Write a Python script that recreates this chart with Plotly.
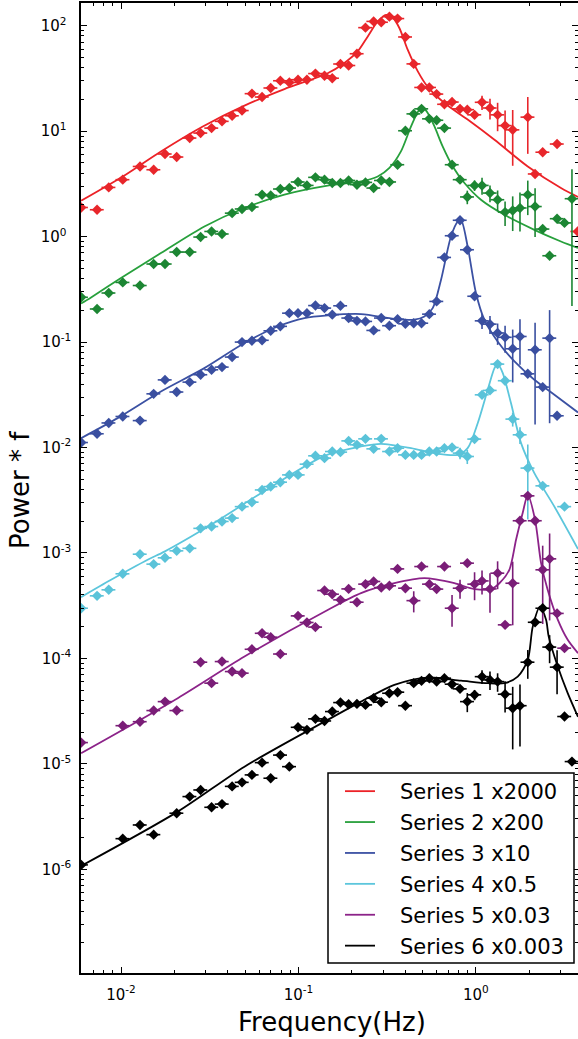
import plotly.graph_objects as go

# ---------------- data ----------------
FREQ = [0.00597, 0.00733, 0.00853, 0.01023, 0.0128, 0.01528, 0.0177, 0.0206, 0.0244, 0.0281,
        0.0324, 0.0371, 0.0423, 0.0481, 0.0547, 0.0624, 0.0698, 0.0791, 0.0889, 0.0995,
        0.1117, 0.1247, 0.1403, 0.1552, 0.1726, 0.1919, 0.2138, 0.2388, 0.2655, 0.2931,
        0.3258, 0.3622, 0.4009, 0.4467, 0.4943, 0.5470, 0.6012, 0.6653, 0.7345, 0.8147,
        0.8954, 0.9840, 1.084, 1.202, 1.327, 1.462, 1.614, 1.774, 1.963, 2.158,
        2.382, 2.606, 2.871, 3.162, 3.483, 3.750]

NAMES = ["Series 1 x2000", "Series 2 x200", "Series 3 x10",
         "Series 4 x0.5", "Series 5 x0.03", "Series 6 x0.003"]

S1_POWER = [1.89, 1.80, 2.93, 3.47, 4.63, 4.31, 6.08, 5.69, 8.61, 9.6,
            10.7, 12.4, 14.0, 15.7, 22.7, 21.1, 25.7, 30.1, 29.0, 30.8,
            30.8, 35.2, 33.6, 31.8, 43.4, 42.0, 54.3, 96, 110, 108,
            122, 117, 78.3, 43.5, 26.0, 26.0, 22.5, 18.0, 18.9, 16.3,
            16.0, 14.3, 18.8, 16.6, 14.3, 11.3, 10.3, None, 13.6, 3.93,
            6.32, None, 7.56, None, None, 1.12]
S1_ERR = {39: 1.2, 40: 1.2, 41: 1.2, 42: 2.9, 43: 3.7, 44: 4.3, 45: 4.4, 46: 5.6, 48: 7.5}

S2_POWER = [0.266, 0.206, 0.292, 0.368, 0.344, 0.550, 0.550, 0.714, 0.714, 0.991,
            1.12, 1.06, 1.67, 1.83, 1.91, 2.50, 2.46, 2.83, 2.89, 3.30,
            3.06, 3.65, 3.47, 3.23, 3.23, 3.41, 3.11, 3.27, 2.89, 3.41,
            3.30, 4.81, 10.1, 14.6, 16.3, 13.1, 12.7, 10.7, 4.81, 3.47,
            2.38, 3.06, 3.06, 2.59, 2.24, 1.71, 1.77, 1.87, 2.50, 1.93,
            1.18, 0.659, 1.48, 1.35, 2.29, None]
S2_ERR = {40: 0.35, 41: 0.35, 42: 0.56, 43: 0.47, 44: 0.5, 45: 0.45, 46: 0.64,
          47: 0.75, 48: 0.9, 49: 0.94, 54: 2.07}

S3_POWER = [0.01115, 0.0135, 0.0171, 0.0197, 0.0180, 0.0323, 0.0438, 0.0336, 0.0417, 0.0490,
            0.0546, 0.0579, 0.0721, 0.100, 0.103, 0.104, 0.128, 0.141, 0.188, 0.188,
            0.188, 0.222, 0.210, 0.182, 0.221, 0.169, 0.159, 0.157, 0.129, 0.169,
            0.143, 0.165, 0.149, 0.151, 0.151, 0.184, 0.243, 0.635, 1.02, 1.43,
            0.751, 0.272, 0.159, 0.148, 0.122, 0.111, 0.0864, 0.113, 0.050, 0.0845,
            0.0374, 0.109, 0.0200, None, None, None]
S3_ERR = {42: 0.026, 43: 0.029, 44: 0.028, 45: 0.032, 46: 0.045, 47: 0.052, 49: 0.068, 51: 0.092}

S4_POWER = [2.99e-4, 3.92e-4, 4.47e-4, 6.34e-4, 9.73e-4, 7.83e-4, 8.99e-4, 1.047e-3, 1.106e-3, 1.711e-3,
            1.78e-3, 1.99e-3, 2.14e-3, 2.75e-3, 3.03e-3, 3.96e-3, 4.26e-3, 4.69e-3, 5.50e-3, 5.50e-3,
            6.95e-3, 8.34e-3, 7.93e-3, 9.16e-3, 9.04e-3, 1.156e-2, 1.06e-2, 1.208e-2, 9.71e-3, 1.208e-2,
            9.16e-3, 9.86e-3, 8.51e-3, 8.51e-3, 8.51e-3, 9.16e-3, 9.16e-3, 9.86e-3, 1.0e-2, 8.85e-3,
            8.22e-3, 1.202e-2, 3.16e-2, 3.48e-2, 6.18e-2, 4.30e-2, 1.86e-2, 1.32e-2, 6.38e-3, None,
            4.33e-3, None, None, 2.75e-3, None, None]
S4_ERR = {39: 1.1e-3, 40: 1.25e-3, 46: 2.8e-3, 47: 2.4e-3, 48: 4.3e-3}

S5_POWER = [1.59e-5, None, None, 2.30e-5, 2.51e-5, 3.20e-5, 3.89e-5, 3.20e-5, None, 9.20e-5,
            5.82e-5, 9.33e-5, 7.50e-5, 7.24e-5, 1.22e-4, 1.73e-4, 1.59e-4, 1.10e-4, None, 2.53e-4,
            2.19e-4, 1.98e-4, 4.40e-4, 4.06e-4, 3.59e-4, 4.56e-4, 3.41e-4, 5.06e-4, 5.36e-4, 4.70e-4,
            4.88e-4, 7.06e-4, 4.63e-4, 3.53e-4, 7.43e-4, 5.06e-4, 4.54e-4, 7.43e-4, 2.99e-4, 4.63e-4,
            8.0e-4, 5.06e-4, 5.43e-4, 4.56e-4, 6.43e-4, 2.08e-4, 5.16e-4, 2.02e-3, 3.48e-3, 2.02e-3,
            6.92e-4, 8.79e-4, 2.67e-4, 1.25e-4, None, None]
S5_ERR = {33: 0.8e-4, 38: 1.0e-4, 39: 0.95e-4, 40: 0.3e-4, 41: 1.5e-4, 42: 1.4e-4, 43: 1.85e-4,
          44: 1.9e-4, 46: 3.1e-4, 50: 4.8e-4, 51: 6.5e-4}

S6_POWER = [1.10e-6, None, None, 1.95e-6, 2.63e-6, 2.13e-6, None, 3.40e-6, 4.89e-6, 5.65e-6,
            3.87e-6, 4.15e-6, 6.11e-6, 6.67e-6, 7.85e-6, 1.026e-5, 7.30e-6, 1.21e-5, 9.40e-6, 2.22e-5,
            2.10e-5, 2.67e-5, 2.55e-5, 3.13e-5, 3.81e-5, 3.67e-5, 3.70e-5, 3.62e-5, 4.19e-5, 3.84e-5,
            4.67e-5, 4.78e-5, 3.56e-5, 5.82e-5, 6.12e-5, 6.49e-5, 6.02e-5, 6.49e-5, 5.69e-5, 5.14e-5,
            3.89e-5, 4.51e-5, 6.71e-5, 6.25e-5, 6.02e-5, 4.57e-5, 3.37e-5, 3.56e-5, 9.20e-5, 2.20e-4,
            2.99e-4, 1.28e-4, 8.26e-5, 2.81e-5, 1.05e-5, None]
S6_ERR = {40: 0.8e-5, 41: 0.5e-5, 42: 1.0e-5, 43: 1.25e-5, 44: 1.2e-5, 45: 1.5e-5, 46: 2.0e-5,
          47: 2.1e-5, 48: 2.8e-5, 51: 3.8e-5, 52: 3.7e-5}

# model curves
M1_F = [0.005957, 0.01023, 0.01679, 0.02891, 0.04966, 0.08337, 0.1462, 0.1816, 0.2158, 0.2460,
        0.2799, 0.3119, 0.3404, 0.3707, 0.4130, 0.4710, 0.5358, 0.6653, 0.8995, 1.274, 1.963, 3.020, 3.767]
M1_P = [2.19, 3.72, 6.43, 11.1, 17.5, 25.1, 35.5, 44.4, 57.1, 79.3,
        110, 127, 119, 95.3, 59.3, 36.9, 26.3, 18.5, 12.9, 8.3, 4.63, 2.89, 2.38]

M2_F = [0.005957, 0.00678, 0.0100, 0.01679, 0.02951, 0.04966, 0.08337, 0.1462, 0.2254, 0.2799,
        0.3258, 0.3784, 0.4315, 0.4808, 0.5070, 0.5358, 0.5848, 0.6501, 0.7413, 0.8630,
        1.069, 1.449, 2.138, 3.020, 3.767]
M2_P = [0.232, 0.265, 0.405, 0.699, 1.25, 1.87, 2.50, 3.04, 3.34, 3.72,
        4.48, 6.43, 11.1, 16.0, 16.6, 14.9, 11.1, 7.18, 4.63, 3.23,
        2.24, 1.61, 1.16, 0.900, 0.78]

M3_F = [0.005957, 0.00957, 0.01679, 0.02951, 0.04966, 0.07638, 0.1081, 0.1462, 0.2254, 0.3475,
        0.4508, 0.5129, 0.5715, 0.6368, 0.7244, 0.7907, 0.8260, 0.8995, 1.002, 1.117,
        1.327, 1.652, 2.138, 2.773, 3.767]
M3_P = [0.01228, 0.0190, 0.0340, 0.0566, 0.0979, 0.1406, 0.169, 0.1795, 0.1845, 0.1663,
        0.163, 0.175, 0.210, 0.390, 1.005, 1.39, 1.43, 0.807, 0.292, 0.163,
        0.1014, 0.0655, 0.0439, 0.0316, 0.0215]

M4_F = [0.005957, 0.00879, 0.01413, 0.01758, 0.03214, 0.06152, 0.1403, 0.2254, 0.2924, 0.4315,
        0.6095, 0.7907, 0.8995, 1.026, 1.167, 1.274, 1.327, 1.419, 1.578, 1.799,
        2.138, 2.773, 3.767]
M4_P = [3.81e-4, 5.56e-4, 8.61e-4, 1.03e-3, 1.85e-3, 3.69e-3, 8.34e-3, 1.023e-2, 1.084e-2, 9.86e-3,
        8.71e-3, 8.53e-3, 9.86e-3, 1.71e-2, 3.53e-2, 5.66e-2, 6.22e-2, 5.08e-2, 2.64e-2, 1.10e-2,
        5.71e-3, 2.75e-3, 1.09e-3]

M5_F = [0.005957, 0.02089, 0.04966, 0.1462, 0.2254, 0.3475, 0.5129, 0.7568, 0.9817, 1.219,
        1.358, 1.545, 1.687, 1.837, 1.963, 2.158, 2.333, 2.541, 2.897, 3.296, 3.767]
M5_P = [1.26e-5, 4.19e-5, 1.04e-4, 2.88e-4, 4.16e-4, 5.16e-4, 5.76e-4, 5.16e-4, 4.54e-4, 4.54e-4,
        5.16e-4, 6.92e-4, 1.34e-3, 2.39e-3, 3.56e-3, 2.06e-3, 8.0e-4, 4.47e-4, 2.33e-4, 1.50e-4, 1.12e-4]

M6_F = [0.005957, 0.02089, 0.04966, 0.1462, 0.2254, 0.3475, 0.5358, 0.8260, 1.169, 1.449,
        1.722, 1.963, 2.094, 2.301, 2.489, 2.576, 2.897, 3.296, 3.767]
M6_P = [1.074e-6, 3.52e-6, 9.40e-6, 2.61e-5, 3.89e-5, 5.61e-5, 6.58e-5, 6.15e-5, 5.82e-5, 5.82e-5,
        6.71e-5, 9.66e-5, 2.00e-4, 3.10e-4, 2.32e-4, 1.61e-4, 8.36e-5, 4.68e-5, 2.79e-5]

X_TICKS = [0.01, 0.1, 1]
X_TICKTEXT = ["10<sup>-2</sup>", "10<sup>-1</sup>", "10<sup>0</sup>"]
Y_TICKS = [1e-6, 1e-5, 1e-4, 1e-3, 1e-2, 1e-1, 1, 10, 100]
Y_TICKTEXT = ["10<sup>-6</sup>", "10<sup>-5</sup>", "10<sup>-4</sup>", "10<sup>-3</sup>",
              "10<sup>-2</sup>", "10<sup>-1</sup>", "10<sup>0</sup>\u00a0",
              "10<sup>1</sup>\u00a0", "10<sup>2</sup>\u00a0"]

# ---------------- figure ----------------
LINE_COLORS = ["#ec2227", "#27a03c", "#3b51a3", "#5cc6dc", "#8c2389", "#000000"]
MARK_COLORS = ["#e8262b", "#1c8633", "#3a4fa0", "#5ac3d9", "#7a1d77", "#000000"]
POWERS = [S1_POWER, S2_POWER, S3_POWER, S4_POWER, S5_POWER, S6_POWER]
ERRS = [S1_ERR, S2_ERR, S3_ERR, S4_ERR, S5_ERR, S6_ERR]
MODELS = [(M1_F, M1_P), (M2_F, M2_P), (M3_F, M3_P), (M4_F, M4_P), (M5_F, M5_P), (M6_F, M6_P)]
PAD = "\u00a0\u00a0\u00a0"

fig = go.Figure()
for k in range(6):
    mf, mp = MODELS[k]
    fig.add_trace(go.Scatter(
        x=mf, y=mp, mode="lines", name=PAD + NAMES[k], legendgroup=f"g{k}",
        line=dict(color=LINE_COLORS[k], width=1.8, shape="spline", smoothing=0.8),
        hoverinfo="skip"))
for k in range(6):
    xs, ys, es = [], [], []
    for i, p in enumerate(POWERS[k]):
        if p is None:
            continue
        xs.append(FREQ[i])
        ys.append(p)
        es.append(ERRS[k].get(i, 0))
    fig.add_trace(go.Scatter(
        x=xs, y=ys, mode="markers", showlegend=False, legendgroup=f"g{k}",
        marker=dict(symbol="diamond", size=8, color=MARK_COLORS[k], line=dict(width=0)),
        error_y=dict(type="data", array=es, visible=True, color=MARK_COLORS[k], thickness=1.6, width=0),
        error_x=dict(type="percent", value=9, visible=True, color=MARK_COLORS[k], thickness=1.6, width=0),
        hoverinfo="skip"))

MINOR_X = [m * 10.0 ** e for e in range(-3, 1) for m in range(2, 10)]
MINOR_Y = [m * 10.0 ** e for e in range(-8, 3) for m in range(2, 10)]

fig.update_xaxes(
    type="log", range=[-2.2255, 0.576], showgrid=False, zeroline=False,
    showline=True, linecolor="black", linewidth=1.5, mirror="allticks",
    ticks="inside", ticklen=6, tickwidth=1, tickcolor="black",
    tickmode="array", tickvals=X_TICKS, ticktext=X_TICKTEXT,
    tickfont=dict(size=15, color="black"), ticklabelstandoff=7,
    minor=dict(ticks="inside", ticklen=3, tickwidth=1, tickcolor="black",
               tickmode="array", tickvals=MINOR_X, showgrid=False))
fig.update_yaxes(
    type="log", range=[-6.984, 2.216], showgrid=False, zeroline=False,
    showline=True, linecolor="black", linewidth=1.5, mirror="allticks",
    ticks="inside", ticklen=6, tickwidth=1, tickcolor="black",
    tickmode="array", tickvals=Y_TICKS, ticktext=Y_TICKTEXT,
    tickfont=dict(size=15, color="black"), ticklabelstandoff=5,
    minor=dict(ticks="inside", ticklen=3, tickwidth=1, tickcolor="black",
               tickmode="array", tickvals=MINOR_Y, showgrid=False))

PLOT_L, PLOT_W, PLOT_B, PLOT_H = 81, 497, 973, 970
def px_x(p):
    return (p - PLOT_L) / PLOT_W
def px_y(p):
    return (PLOT_B - p) / PLOT_H

fig.update_layout(
    width=578, height=1039,
    margin=dict(l=81, r=0, t=3, b=66, autoexpand=False),
    plot_bgcolor="white", paper_bgcolor="white",
    font=dict(family="DejaVu Sans", color="black"),
    showlegend=True,
    legend=dict(x=px_x(340), y=px_y(771), xanchor="left", yanchor="top",
                borderwidth=0, bgcolor="rgba(0,0,0,0)",
                font=dict(size=21, family="DejaVu Sans", color="black"),
                traceorder="grouped", tracegroupgap=0.6),
    shapes=[dict(type="rect", xref="paper", yref="paper",
                 x0=px_x(328), x1=px_x(574), y0=px_y(963), y1=px_y(773),
                 fillcolor="white", line=dict(color="black", width=1.5), layer="above")],
    annotations=[
        dict(text="Frequency(Hz)", xref="paper", yref="paper", x=0.505, y=-0.0505,
             xanchor="center", yanchor="middle", showarrow=False,
             font=dict(size=26, family="DejaVu Sans", color="black")),
        dict(text="Power * f", xref="paper", yref="paper", x=-0.1227, y=0.498,
             xanchor="center", yanchor="middle", textangle=-90, showarrow=False,
             font=dict(size=26, family="DejaVu Sans", color="black")),
    ],
)

fig.write_html("out.html", config={"displayModeBar": False},
               post_script="document.body.style.margin='0px';")
